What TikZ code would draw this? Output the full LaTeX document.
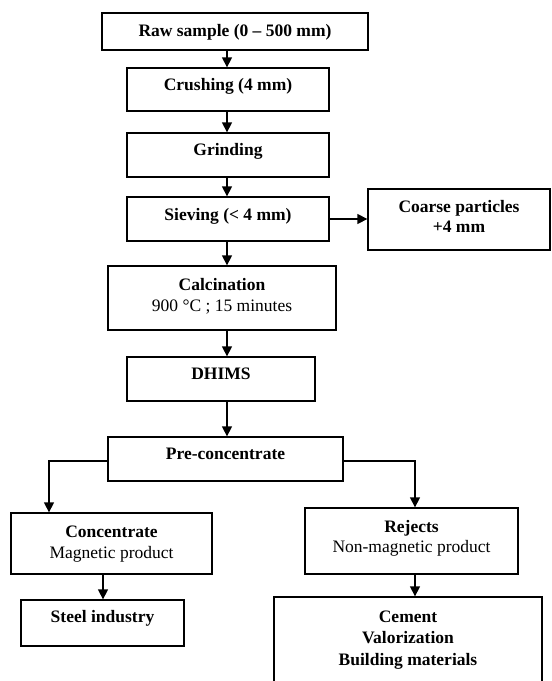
\documentclass[tikz,border=0pt]{standalone}
\usepackage{fontspec}
\setmainfont{Liberation Serif}
\usetikzlibrary{arrows.meta}
\begin{document}
\begin{tikzpicture}[x=1pt,y=-1pt,
  box/.style={draw=black, line width=1.3pt, rectangle, inner sep=0pt},
  bt/.style={anchor=base, inner sep=0pt, font=\fontsize{17.5}{21.5}\selectfont\bfseries},
  rt/.style={anchor=base, inner sep=0pt, font=\fontsize{17.5}{21.5}\selectfont},
  conn/.style={draw=black, line width=1.3pt, -{Triangle[length=10pt,width=10pt]}}]
\useasboundingbox (0,0) rectangle (552,681);
\clip (0,0) rectangle (552,681);

% boxes
\node[box, minimum width=266pt, minimum height=37pt] (raw) at (235,31.5) {};
\node[box, minimum width=202pt, minimum height=43pt] (crush) at (228,89.5) {};
\node[box, minimum width=202pt, minimum height=44pt] (grind) at (228,155) {};
\node[box, minimum width=202pt, minimum height=44pt] (sieve) at (228,219) {};
\node[box, minimum width=182pt, minimum height=61pt] (coarse) at (459,219.5) {};
\node[box, minimum width=228pt, minimum height=64pt] (calc) at (222,298) {};
\node[box, minimum width=188pt, minimum height=44pt] (dhims) at (221,379) {};
\node[box, minimum width=235pt, minimum height=44pt] (pre) at (225.5,459) {};
\node[box, minimum width=201pt, minimum height=61pt] (conc) at (111.5,543.5) {};
\node[box, minimum width=163pt, minimum height=46pt] (steel) at (102.5,623) {};
\node[box, minimum width=213pt, minimum height=66pt] (rej) at (411.5,541) {};
\node[box, minimum width=268pt, minimum height=110pt] (cem) at (408,652) {};

% texts
\node[bt] (rawT) at (235,36) {Raw sample (0 – 500 mm)};
\node[bt] (crushT) at (228,90) {Crushing (4 mm)};
\node[bt] (grindT) at (228,155) {Grinding};
\node[bt] (sieveT) at (228,220) {Sieving (< 4 mm)};
\node[bt] (coarseT1) at (459,212) {Coarse particles};
\node[bt] (coarseT2) at (459,232) {+4 mm};
\node[bt] (calcT1) at (222,290) {Calcination};
\node[rt] (calcT2) at (222,311) {900 °C ; 15 minutes};
\node[bt] (dhimsT) at (221,379) {DHIMS};
\node[bt] (preT) at (225.5,459) {Pre-concentrate};
\node[bt] (concT1) at (111.5,537) {Concentrate};
\node[rt] (concT2) at (111.5,558) {Magnetic product};
\node[bt] (steelT) at (102.5,622) {Steel industry};
\node[bt] (rejT1) at (411.5,532) {Rejects};
\node[rt] (rejT2) at (411.5,552) {Non-magnetic product};
\node[bt] (cemT1) at (408,622) {Cement};
\node[bt] (cemT2) at (408,643) {Valorization};
\node[bt] (cemT3) at (408,665) {Building materials};

% connector guides
\coordinate (ax) at (227,0);
\coordinate (lx) at (49,0);
\coordinate (rx) at (415,0);
\coordinate (sx) at (103,0);

% connectors
\draw[conn] (ax |- raw.south) -- (ax |- crush.north);
\draw[conn] (ax |- crush.south) -- (ax |- grind.north);
\draw[conn] (ax |- grind.south) -- (ax |- sieve.north);
\draw[conn] (ax |- sieve.south) -- (ax |- calc.north);
\draw[conn] (ax |- calc.south) -- (ax |- dhims.north);
\draw[conn] (ax |- dhims.south) -- (ax |- pre.north);
\draw[conn] (sieve.east) -- (coarse.west |- sieve.east);
\draw[conn] ([yshift=-2pt]pre.west) -| (lx |- conc.north);
\draw[conn] ([yshift=-2pt]pre.east) -| (rx |- rej.north);
\draw[conn] (sx |- conc.south) -- (sx |- steel.north);
\draw[conn] (rx |- rej.south) -- (rx |- cem.north);
\end{tikzpicture}
\end{document}
